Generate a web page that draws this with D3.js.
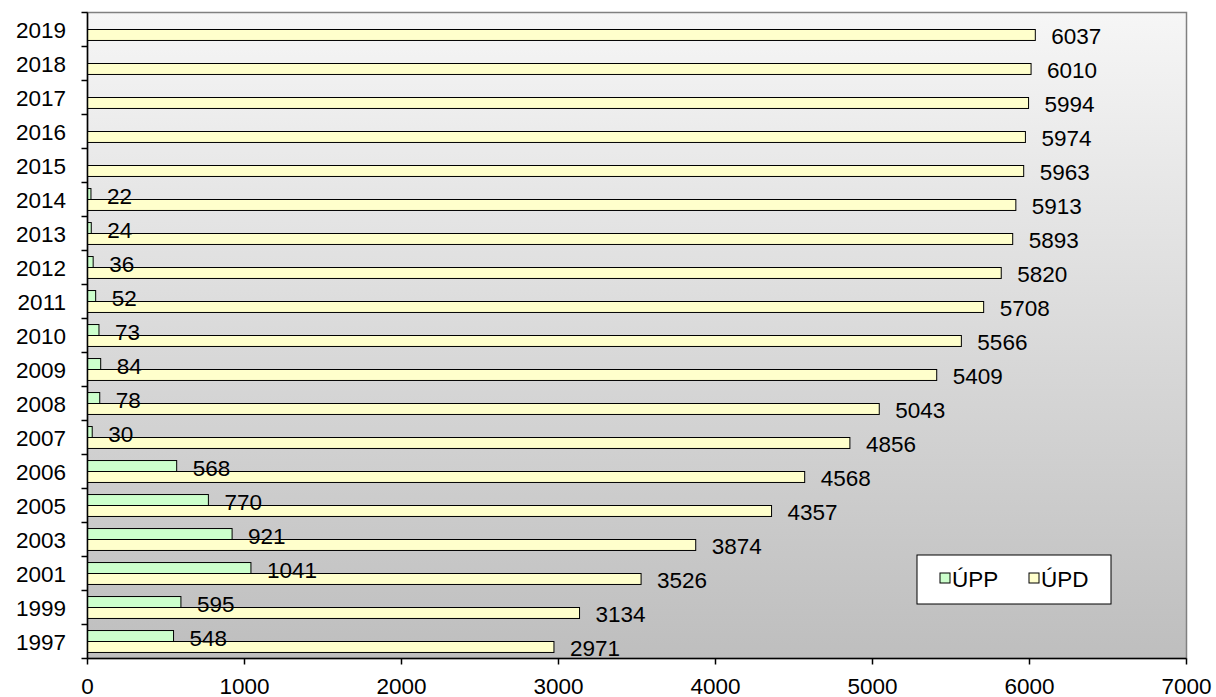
<!DOCTYPE html>
<html>
<head>
<meta charset="utf-8">
<script src="https://cdn.jsdelivr.net/npm/d3@7"></script>
<style>
  body { margin: 0; background: #fff; }
  svg { display: block; font-family: Arial, "Liberation Sans", sans-serif; }
</style>
</head>
<body>
<div class="chart"></div>
<script>
var years = ["2019", "2018", "2017", "2016", "2015", "2014", "2013", "2012", "2011", "2010",
             "2009", "2008", "2007", "2006", "2005", "2003", "2001", "1999", "1997"];
var upp = [0, 0, 0, 0, 0, 22, 24, 36, 52, 73, 84, 78, 30, 568, 770, 921, 1041, 595, 548];
var upd = [6037, 6010, 5994, 5974, 5963, 5913, 5893, 5820, 5708, 5566, 5409, 5043, 4856, 4568, 4357, 3874, 3526, 3134, 2971];
var xTicks = [0, 1000, 2000, 3000, 4000, 5000, 6000, 7000];
var seriesNames = ["ÚPP", "ÚPD"];
var seriesColors = ["#ccffcc", "#ffffcc"];

var width = 1216, height = 697;
var pLeft = 87.5, pRight = 1186.5, pTop = 12.5, pBottom = 658.5;
var fs = "22.5px";

var svg = d3.select(".chart").append("svg").attr("width", width).attr("height", height);

var defs = svg.append("defs");
var grad = defs.append("linearGradient").attr("id", "bg").attr("x1", 0).attr("y1", 0).attr("x2", 0).attr("y2", 1);
grad.append("stop").attr("offset", "0%").attr("stop-color", "#f6f6f6");
grad.append("stop").attr("offset", "100%").attr("stop-color", "#bebebe");

var x = d3.scaleLinear().domain([0, 7000]).range([pLeft, pRight]);
var y = d3.scaleBand().domain(years).range([pTop, pBottom]);
var inner = d3.scaleBand().domain([0, 1]).range([0, y.bandwidth()]).paddingOuter(0.55).paddingInner(0);

svg.append("rect").attr("x", pLeft).attr("y", pTop).attr("width", pRight - pLeft).attr("height", pBottom - pTop)
  .style("fill", "url(#bg)").style("stroke", "#808080").style("stroke-width", 1.5);

var series = [upp, upd];
var barG = svg.append("g"), labelG = svg.append("g");
series.forEach(function(vals, s) {
  years.forEach(function(yr, i) {
    var v = vals[i];
    if (v <= 0) return;
    var by = y(yr) + inner(s);
    barG.append("rect").attr("x", x(0)).attr("y", by).attr("width", x(v) - x(0)).attr("height", inner.bandwidth())
      .style("fill", seriesColors[s]).style("stroke", "#000").style("stroke-width", 1);
    labelG.append("text").attr("x", x(v) + 16).attr("y", by + inner.bandwidth() / 2 + 2)
      .attr("dominant-baseline", "central").style("font-size", fs).style("fill", "#000").text(v);
  });
});

// y axis
var yAxis = svg.append("g");
yAxis.append("line").attr("x1", pLeft).attr("x2", pLeft).attr("y1", pTop).attr("y2", pBottom).style("stroke", "#000").style("stroke-width", 1.5);
years.concat(["end"]).forEach(function(yr, i) {
  var ty = pTop + i * y.bandwidth();
  yAxis.append("line").attr("x1", pLeft - 6).attr("x2", pLeft).attr("y1", ty).attr("y2", ty).style("stroke", "#000").style("stroke-width", 1.5);
});
years.forEach(function(yr) {
  yAxis.append("text").attr("x", 66).attr("y", y(yr) + y.bandwidth() / 2 + 1).attr("text-anchor", "end")
    .attr("dominant-baseline", "central").style("font-size", fs).text(yr);
});

// x axis
var xAxis = svg.append("g");
xAxis.append("line").attr("x1", pLeft).attr("x2", pRight).attr("y1", pBottom).attr("y2", pBottom).style("stroke", "#000").style("stroke-width", 1.5);
xTicks.forEach(function(t) {
  xAxis.append("line").attr("x1", x(t)).attr("x2", x(t)).attr("y1", pBottom).attr("y2", pBottom + 6).style("stroke", "#000").style("stroke-width", 1.5);
  xAxis.append("text").attr("x", x(t)).attr("y", 686).attr("text-anchor", "middle")
    .attr("dominant-baseline", "central").style("font-size", fs).text(t);
});

// legend
var lg = svg.append("g").attr("transform", "translate(917,555)");
lg.append("rect").attr("width", 194).attr("height", 49).style("fill", "#fff").style("stroke", "#000").style("stroke-width", 1);
var legX = [23, 112];
seriesNames.forEach(function(n, i) {
  lg.append("rect").attr("x", legX[i]).attr("y", 18).attr("width", 10).attr("height", 10)
    .style("fill", seriesColors[i]).style("stroke", "#000").style("stroke-width", 1);
  lg.append("text").attr("x", legX[i] + 12).attr("y", 24).attr("dominant-baseline", "central")
    .style("font-size", fs).text(n);
});
</script>
</body>
</html>
